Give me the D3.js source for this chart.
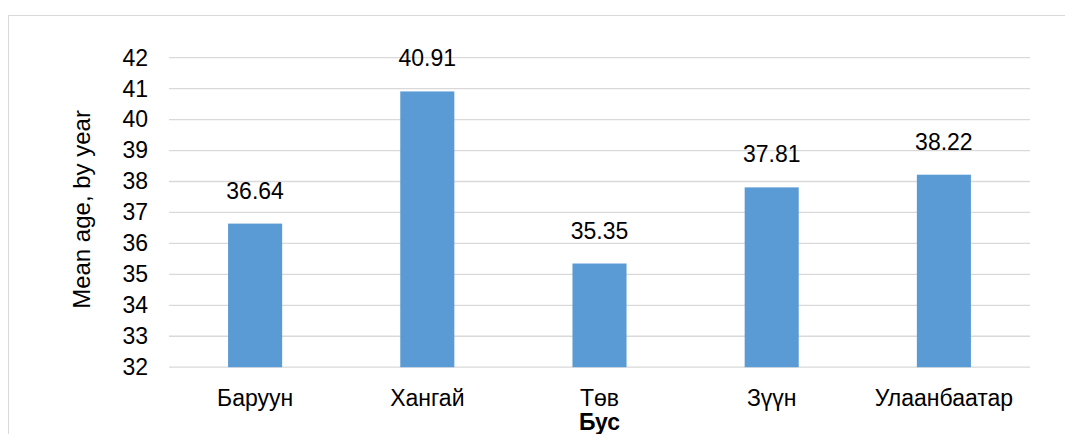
<!DOCTYPE html>
<html><head><meta charset="utf-8">
<script src="https://cdn.jsdelivr.net/npm/d3@7"></script>
<style>body{margin:0;background:#fff;} text{font-family:"Liberation Sans",Arial,sans-serif;}</style>
</head><body><svg id="c" width="1065" height="434"></svg>
<script>
const categories = ["Баруун","Хангай","Төв","Зүүн","Улаанбаатар"];
const values = [36.64,40.91,35.35,37.81,38.22];
const yTicks = [32,33,34,35,36,37,38,39,40,41,42];
const yTitle = "Mean age, by year";
const xTitle = "Бус";

const FS = 23;
const svg = d3.select("#c");
const L=169, R=1030, T=57.7, B=367.2;
svg.append("rect").attr("x",8.5).attr("y",15.5).attr("width",1070).attr("height",440)
  .attr("fill","none").attr("stroke","#d9d9d9").attr("stroke-width",1);
const x = d3.scaleBand().domain(categories).range([L,R]).paddingInner(0.686).paddingOuter(0.343);
const y = d3.scaleLinear().domain([32,42]).range([B,T]);
const g = svg.append("g");
g.selectAll("line.grid").data(yTicks).join("line").attr("class","grid")
  .attr("x1",L).attr("x2",R).attr("y1",d=>y(d)).attr("y2",d=>y(d))
  .attr("stroke","#d9d9d9").attr("stroke-width",1.3);
const yAxis = svg.append("g").attr("transform",`translate(${L},0)`)
  .call(d3.axisLeft(y).tickValues(yTicks).tickSize(0).tickPadding(21));
yAxis.select(".domain").remove();
yAxis.selectAll("text").attr("font-size",FS).attr("fill","#000").attr("font-family","Liberation Sans, Arial");
g.selectAll("rect.bar").data(values).join("rect").attr("class","bar")
  .attr("x",(d,i)=>x(categories[i])).attr("width",x.bandwidth())
  .attr("y",d=>y(d)).attr("height",d=>B-y(d)).attr("fill","#5b9bd5");
g.selectAll("text.val").data(values).join("text").attr("class","val")
  .attr("x",(d,i)=>x(categories[i])+x.bandwidth()/2).attr("y",d=>y(d)-25)
  .attr("text-anchor","middle").attr("font-size",FS).attr("fill","#000")
  .text(d=>d.toFixed(2));
const xAxis = svg.append("g").attr("transform",`translate(0,${B})`)
  .call(d3.axisBottom(x).tickSize(0).tickPadding(22));
xAxis.select(".domain").remove();
xAxis.selectAll("text").attr("font-size",FS).attr("fill","#000").attr("font-family","Liberation Sans, Arial");
svg.append("text").attr("x",(L+R)/2).attr("y",430).attr("text-anchor","middle")
  .attr("font-size",FS).attr("font-weight","bold").text(xTitle);
svg.append("text").attr("transform",`translate(90,${(T+B)/2 - 3}) rotate(-90)`).attr("text-anchor","middle")
  .attr("font-size",24).text(yTitle);
</script></body></html>
